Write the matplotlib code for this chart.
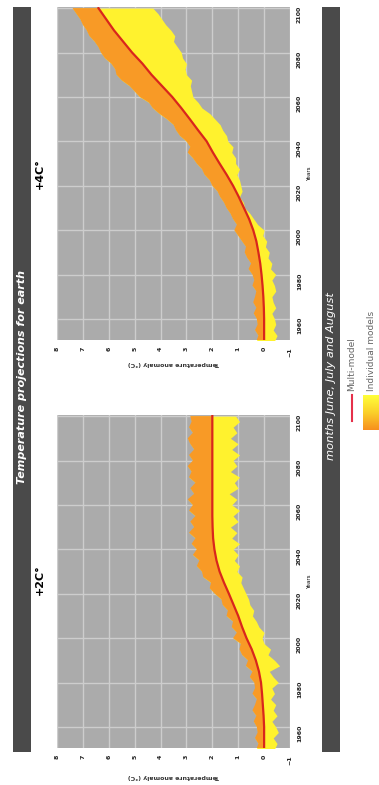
import numpy as np
import matplotlib.pyplot as plt
from matplotlib.patches import Rectangle
from matplotlib.colors import LinearSegmentedColormap

# ---- data ----
# multi-model mean, every 5 years
years = list(range(1950, 2101, 5))
mean_2c = [0.00, 0.00, 0.00, 0.02, 0.05, 0.08, 0.12, 0.20, 0.32, 0.48, 0.68,
           0.85, 1.00, 1.18, 1.36, 1.55, 1.72, 1.84, 1.92, 1.97, 1.99, 2.00,
           2.00, 2.00, 2.00, 2.00, 2.00, 2.00, 2.00, 2.00, 2.00]
mean_4c = [0.00, 0.00, 0.00, 0.01, 0.03, 0.06, 0.10, 0.15, 0.22, 0.30, 0.42,
           0.58, 0.78, 0.98, 1.20, 1.45, 1.72, 1.98, 2.22, 2.55, 2.87, 3.20,
           3.55, 3.95, 4.35, 4.70, 5.10, 5.45, 5.80, 6.10, 6.40]

# envelope of the individual models, every 2.5 years
edge_years = [1950 + 2.5 * i for i in range(61)]
high_2c = [0.30,
           0.22, 0.35, 0.25, 0.28, 0.40, 0.30, 0.45, 0.35,
           0.28, 0.45, 0.35, 0.38, 0.55, 0.45, 0.70, 0.62,
           0.85, 0.95, 0.90, 1.20, 1.05, 1.25, 1.20, 1.45,
           1.40, 1.60, 1.65, 1.90, 2.10, 2.05, 2.35, 2.40,
           2.60, 2.50, 2.75, 2.60, 2.80, 2.65, 2.90, 2.70,
           2.85, 2.65, 2.90, 2.75, 2.95, 2.70, 2.85, 2.65,
           2.90, 2.80, 2.95, 2.75, 2.90, 2.70, 2.85, 2.95,
           2.75, 2.90, 2.80, 2.85]
low_2c = [-0.40,
          -0.50, -0.35, -0.55, -0.45, -0.30, -0.50, -0.35, -0.45,
          -0.25, -0.40, -0.30, -0.55, -0.35, -0.20, -0.60, -0.40,
          -0.15, -0.25, 0.00, 0.08, 0.00, 0.20, 0.30, 0.45,
          0.40, 0.55, 0.60, 0.70, 0.80, 0.90, 0.85, 1.05,
          0.95, 1.15, 1.00, 1.20, 0.95, 1.25, 1.05, 1.30,
          1.00, 1.20, 0.95, 1.25, 1.05, 1.35, 1.00, 1.15,
          0.95, 1.30, 1.05, 1.20, 0.95, 1.25, 1.00, 1.30,
          1.05, 1.20, 0.95, 1.10]
high_4c = [0.30,
           0.22, 0.35, 0.25, 0.28, 0.40, 0.30, 0.42, 0.35,
           0.30, 0.45, 0.38, 0.45, 0.60, 0.50, 0.65, 0.75,
           0.70, 0.85, 1.00, 1.15, 1.05, 1.20, 1.30, 1.45,
           1.55, 1.70, 1.80, 2.00, 2.10, 2.30, 2.40, 2.60,
           2.75, 2.95, 2.85, 3.00, 3.25, 3.40, 3.50, 3.75,
           4.05, 4.30, 4.45, 4.80, 5.00, 5.20, 5.50, 5.70,
           5.75, 5.90, 6.15, 6.30, 6.40, 6.55, 6.75, 6.85,
           7.00, 7.10, 7.25, 7.40]
low_4c = [-0.40,
          -0.50, -0.35, -0.45, -0.40, -0.30, -0.45, -0.35, -0.30,
          -0.45, -0.40, -0.30, -0.45, -0.25, -0.30, -0.15, -0.20,
          -0.05, -0.10, 0.05, 0.00, 0.25, 0.40, 0.55, 0.75,
          0.80, 0.95, 0.85, 0.90, 0.95, 1.05, 0.95, 1.10,
          1.10, 1.25, 1.20, 1.40, 1.45, 1.60, 1.70, 1.90,
          2.10, 2.40, 2.55, 2.75, 2.80, 2.85, 2.80, 3.00,
          3.05, 3.00, 3.15, 3.20, 3.35, 3.50, 3.45, 3.60,
          3.80, 3.95, 4.10, 4.30]

year_ticks = [1960, 1980, 2000, 2020, 2040, 2060, 2080, 2100]
temp_ticks = [8, 7, 6, 5, 4, 3, 2, 1, 0, -1]

GRAY = "#ababab"
GRID = "#cdcdcd"
YELLOW = "#fff22e"
ORANGE = "#f89a26"
RED = "#d9261c"
BAR = "#4a4a4a"

W, H = 379, 785
fig = plt.figure(figsize=(W / 100, H / 100), dpi=100)


def box(x0, y0, x1, y1):
    return [x0 / W, 1 - y1 / H, (x1 - x0) / W, (y1 - y0) / H]


def ftext(x, y, s, **kw):
    fig.text(x / W, 1 - y / H, s, **kw)


def panel(b, mean, high, low, xlab_pad):
    ax = fig.add_axes(box(*b))
    ax.set_facecolor(GRAY)
    # whole model envelope in yellow, hotter half (above the mean) in orange
    ax.fill_betweenx(edge_years, low, high, color=YELLOW, lw=0, zorder=2)
    ax.fill(np.concatenate([high, mean[::-1]]),
            np.concatenate([edge_years, years[::-1]]),
            color=ORANGE, lw=0, zorder=2)
    ax.plot(mean, years, color=RED, lw=1.6, zorder=3)
    ax.set_xlim(8, -1)
    ax.set_ylim(1950.5, 2100.5)
    ax.set_xticks(temp_ticks)
    ax.set_yticks(year_ticks)
    ax.grid(color=GRID, lw=1)
    ax.set_axisbelow(True)
    for s in ax.spines.values():
        s.set_visible(False)
    ax.yaxis.tick_right()
    ax.yaxis.set_label_position("right")
    ax.tick_params(length=0, labelsize=4.5, pad=5, labelcolor="#222222")
    for t in ax.get_xticklabels() + ax.get_yticklabels():
        t.set_rotation(90)
        t.set_fontweight("bold")
    ax.set_ylabel("Years", rotation=90, fontsize=4, labelpad=4)
    ax.set_xlabel("Temperature anomaly (°C)", rotation=180, fontsize=4.5,
                  labelpad=xlab_pad, fontweight="bold", color="#333333")
    return ax


panel((57, 7, 290, 340), mean_4c, high_4c, low_4c, 3)
panel((57, 415, 290, 748), mean_2c, high_2c, low_2c, 7)

# dark side bars
for x0 in (13, 322):
    fig.add_artist(Rectangle((x0 / W, 1 - 752 / H), 18 / W, 745 / H,
                             transform=fig.transFigure, color=BAR, lw=0))

ftext(22, 377, "Temperature projections for earth", rotation=90, color="white",
      fontsize=8, fontweight="bold", style="italic", ha="center", va="center")
ftext(331, 376, "months June, July and August", rotation=90, color="white",
      fontsize=8.2, style="italic", ha="center", va="center")

ftext(40, 174, "+4C°", rotation=90, fontsize=8, fontweight="bold",
      ha="center", va="center")
ftext(40, 580, "+2C°", rotation=90, fontsize=8, fontweight="bold",
      ha="center", va="center")

# legend
fig.add_artist(plt.Line2D([352 / W, 352 / W], [1 - 421 / H, 1 - 395 / H],
                          transform=fig.transFigure, color="#e5304a", lw=1.5))
ftext(352, 391, "Multi-model", rotation=90, fontsize=6.5, color="#666666",
      ha="center", va="bottom")
lax = fig.add_axes(box(363, 395, 379, 430))
cmap = LinearSegmentedColormap.from_list("ym", ["#ffff3a", "#fbd02a", "#f7901e"])
lax.imshow(np.linspace(0, 1, 60).reshape(-1, 1), cmap=cmap, aspect="auto")
lax.axis("off")
ftext(372, 391, "Individual models", rotation=90, fontsize=6.5, color="#666666",
      ha="center", va="bottom")

fig.savefig("out.png", dpi=100)
